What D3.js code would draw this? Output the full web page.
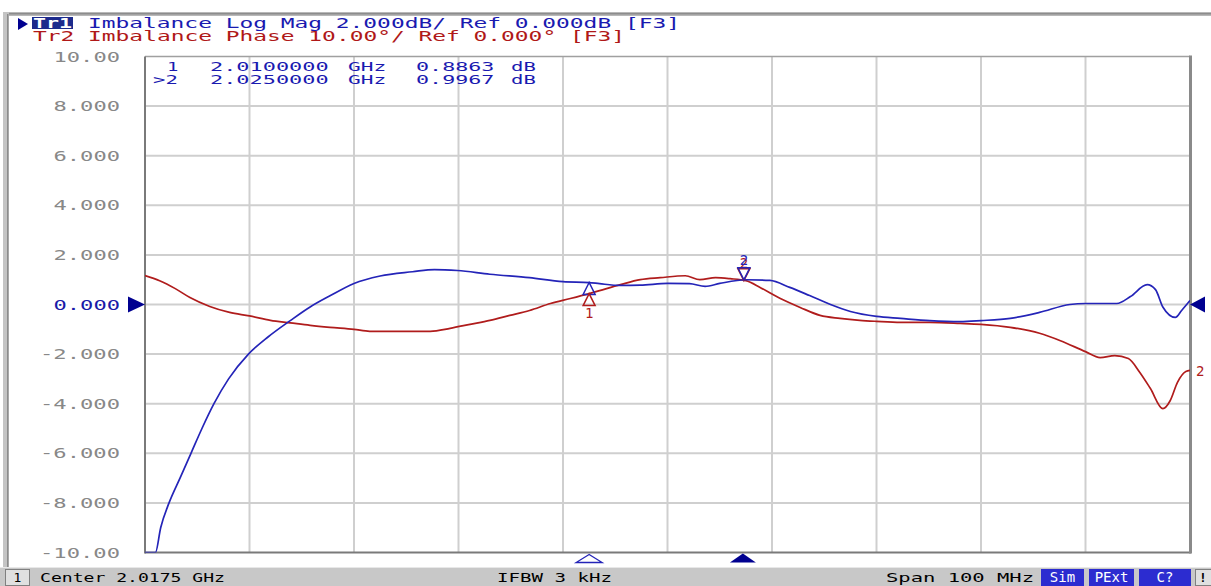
<!DOCTYPE html>
<html><head><meta charset="utf-8">
<script src="https://cdn.jsdelivr.net/npm/d3@7/dist/d3.min.js"></script>
<style>
html,body{margin:0;padding:0;background:#fff;}
svg{display:block;}
text{font-family:"DejaVu Sans Mono",monospace;}
</style></head><body>
<svg id="chart" width="1211" height="586"></svg>
<script>
// ---- data ----
const freqStartMHz = 1967.5, freqStopMHz = 2067.5;
const xGridMHz = [1967.5,1977.5,1987.5,1997.5,2007.5,2017.5,2027.5,2037.5,2047.5,2057.5,2067.5];
const yTicks = [10,8,6,4,2,0,-2,-4,-6,-8,-10];
const yTickLabels = ["10.00","8.000","6.000","4.000","2.000","0.000","-2.000","-4.000","-6.000","-8.000","-10.00"];

// Tr1: Imbalance Log Mag (dB)
const tr1Freq = [1967.5,1968.5,1969.0,1969.8,1970.85,1971.9,1972.95,1974.1,1975.5,1977.4,1979.3,1981.4,1983.3,1985.2,1987.5,1990.0,1993.1,1995.2,1997.4,2000.5,2004.3,2007.5,2010.0,2011.0,2013.0,2014.9,2017.5,2019.6,2021.1,2022.5,2025.0,2027.3,2029.2,2031.1,2033.1,2035.0,2037.5,2039.8,2042.6,2045.5,2047.5,2050.3,2053.1,2056.0,2057.5,2060.5,2061.8,2063.4,2064.2,2064.9,2066.1,2066.7,2067.5];
const tr1Mag  = [-10,-10,-9.0,-8.0,-7.0,-6.0,-5.0,-4.0,-3.0,-2.0,-1.3,-0.65,-0.1,0.35,0.85,1.15,1.32,1.41,1.37,1.22,1.08,0.92,0.886,0.84,0.77,0.78,0.85,0.84,0.73,0.85,0.997,0.97,0.69,0.36,0.0,-0.28,-0.48,-0.56,-0.65,-0.69,-0.65,-0.56,-0.32,0.0,0.04,0.04,0.32,0.80,0.60,-0.10,-0.52,-0.24,0.16];

// Tr2: Imbalance Phase (deg)
const tr2Freq = [1967.5,1968.9,1970.4,1971.8,1973.7,1975.6,1977.5,1979.5,1981.4,1983.3,1985.2,1987.5,1989.0,1990.0,1994.8,1996.7,1998.6,2000.5,2002.4,2004.3,2006.3,2008.2,2010.0,2011.0,2013.0,2014.9,2016.8,2019.2,2020.6,2022.1,2023.5,2025.0,2026.4,2028.3,2030.2,2032.1,2034.0,2035.9,2037.5,2039.8,2042.6,2045.5,2047.5,2050.3,2053.1,2055.1,2057.5,2058.9,2060.3,2061.6,2062.7,2063.7,2064.9,2065.6,2066.3,2067.1,2067.5];
const tr2Phase = [5.85,4.8,3.2,1.4,-0.4,-1.6,-2.3,-3.2,-3.7,-4.2,-4.6,-5.0,-5.4,-5.4,-5.4,-4.8,-4.0,-3.2,-2.2,-1.2,0.2,1.2,2.2,2.8,4.0,5.0,5.4,5.8,5.0,5.4,5.2,4.8,3.4,1.2,-0.6,-2.2,-2.8,-3.2,-3.4,-3.6,-3.6,-3.8,-4.0,-4.6,-5.8,-7.3,-9.5,-10.7,-10.3,-10.9,-13.7,-16.9,-21.0,-19.4,-15.7,-13.5,-13.3];

const markerIds = ["1","2"];
const markerFreqMHz = [2010.0, 2025.0];
const markerMag = [0.8863, 0.9967];
const markerFreqText = ["2.0100000","2.0250000"];
const markerValText = ["0.8863","0.9967"];

const headerTr1 = "Imbalance Log Mag 2.000dB/ Ref 0.000dB [F3]";
const headerTr2 = "Tr2 Imbalance Phase 10.00°/ Ref 0.000° [F3]";
const statusTexts = ["Center 2.0175 GHz","IFBW 3 kHz","Span 100 MHz"];

// ---- drawing ----
const BLUE = "#2424b8", RED = "#b01c1c", NAVY = "#000090", GRID = "#cfcfcf";
const svg = d3.select("#chart");
const L = 145, R = 1190, T = 56.5, B = 552.5;
const x = d3.scaleLinear().domain([freqStartMHz, freqStopMHz]).range([L, R]);
const yMag = d3.scaleLinear().domain([-10, 10]).range([B, T]);
const yPh = d3.scaleLinear().domain([-50, 50]).range([B, T]);

// outer frame
svg.append("rect").attr("x",3).attr("y",12).attr("width",1208).attr("height",4).attr("fill","#b8b8b8");
svg.append("rect").attr("x",3).attr("y",13).attr("width",1208).attr("height",1.5).attr("fill","#8c8c8c");
svg.append("rect").attr("x",3).attr("y",12).attr("width",6).attr("height",556).attr("fill","#c4c4c4");
svg.append("rect").attr("x",7).attr("y",14).attr("width",1.5).attr("height",554).attr("fill","#8c8c8c");

// grid
const g = svg.append("g");
g.selectAll("line.v").data(xGridMHz.slice(1,-1)).join("line")
  .attr("x1",d=>x(d)).attr("x2",d=>x(d)).attr("y1",T).attr("y2",B)
  .attr("stroke",GRID).attr("stroke-width",2);
g.selectAll("line.h").data(yTicks.slice(1,-1)).join("line")
  .attr("x1",L).attr("x2",R).attr("y1",d=>yMag(d)).attr("y2",d=>yMag(d))
  .attr("stroke",GRID).attr("stroke-width",2);
// frame
g.append("line").attr("x1",L).attr("x2",R).attr("y1",T).attr("y2",T).attr("stroke","#a0a0a0").attr("stroke-width",1.5);
g.append("line").attr("x1",L).attr("x2",L).attr("y1",T).attr("y2",B+1).attr("stroke","#7a7a7a").attr("stroke-width",2);
g.append("line").attr("x1",L).attr("x2",R+1).attr("y1",B).attr("y2",B).attr("stroke","#7a7a7a").attr("stroke-width",2);
g.append("line").attr("x1",R+0.5).attr("x2",R+0.5).attr("y1",T-1).attr("y2",B+1).attr("stroke","#8a8a8a").attr("stroke-width",3);

// y tick labels
yTicks.forEach((v,i)=>{
  const s = yTickLabels[i];
  const w = s.length*13.5;
  svg.append("text").attr("x",121-w).attr("y",yMag(v)+5)
    .attr("textLength",w-1).attr("lengthAdjust","spacingAndGlyphs")
    .attr("font-size",14).attr("fill", v===0 ? "#1a1aa8" : "#888888").text(s);
});

// traces
svg.append("clipPath").attr("id","pc").append("rect").attr("x",L).attr("y",T).attr("width",R-L).attr("height",B-T);
const lineMag = d3.line().x((d,i)=>x(tr1Freq[i])).y(d=>yMag(d)).curve(d3.curveMonotoneX);
const linePh = d3.line().x((d,i)=>x(tr2Freq[i])).y(d=>yPh(d)).curve(d3.curveMonotoneX);
svg.append("path").attr("d",linePh(tr2Phase)).attr("fill","none").attr("stroke",RED).attr("stroke-width",1.7).attr("clip-path","url(#pc)");
svg.append("path").attr("d",lineMag(tr1Mag)).attr("fill","none").attr("stroke",BLUE).attr("stroke-width",1.7).attr("clip-path","url(#pc)");

function phAt(f){
  for(let i=1;i<tr2Freq.length;i++){ if(f<=tr2Freq[i]){const t=(f-tr2Freq[i-1])/(tr2Freq[i]-tr2Freq[i-1]);return tr2Phase[i-1]+t*(tr2Phase[i]-tr2Phase[i-1]);} }
  return tr2Phase[tr2Phase.length-1];
}
function triUp(cx,ty,c){svg.append("path").attr("d",`M${cx},${ty} L${cx-6},${ty+12} L${cx+6},${ty+12} Z`).attr("fill","none").attr("stroke",c).attr("stroke-width",1.5);}
function triDown(cx,ty,c){svg.append("path").attr("d",`M${cx},${ty} L${cx-6},${ty-12} L${cx+6},${ty-12} Z`).attr("fill","none").attr("stroke",c).attr("stroke-width",1.5);}
function mk(txt,cx,by,c){svg.append("text").attr("x",cx).attr("y",by).attr("text-anchor","middle").attr("font-size",14).attr("fill",c).text(txt);}
// marker 1 (inactive): below trace
{
  const cx = x(markerFreqMHz[0]);
  const yb = yMag(markerMag[0]), yr = yPh(phAt(markerFreqMHz[0]));
  triUp(cx,yb,BLUE);
  triUp(cx,yr,RED); mk(markerIds[0],cx,yr+24,RED);
}
// marker 2 (active): above trace
{
  const cx = x(markerFreqMHz[1]) - 2;
  const yb = yMag(markerMag[1]), yr = yPh(phAt(markerFreqMHz[1]));
  triDown(cx,yr,RED); mk(markerIds[1],cx,yr-13,RED);
  triDown(cx,yb,BLUE); mk(markerIds[1],cx,yb-15,BLUE);
}
// stimulus markers on bottom
svg.append("path").attr("d",`M${x(markerFreqMHz[0])},${B+2} L${x(markerFreqMHz[0])-13},${B+10} L${x(markerFreqMHz[0])+13},${B+10} Z`).attr("fill","#fff").attr("stroke",BLUE).attr("stroke-width",1.3);
svg.append("path").attr("d",`M${x(markerFreqMHz[1])-3},${B+1} L${x(markerFreqMHz[1])-16},${B+10} L${x(markerFreqMHz[1])+10},${B+10} Z`).attr("fill",NAVY);
// ref level triangles
svg.append("path").attr("d",`M${L-17},${yMag(0)-8} L${L},${yMag(0)} L${L-17},${yMag(0)+8} Z`).attr("fill",NAVY);
svg.append("path").attr("d",`M${R},${yMag(0)} L${R+15},${yMag(0)-8} L${R+15},${yMag(0)+8} Z`).attr("fill",NAVY);
svg.append("text").attr("x",R+6).attr("y",yPh(tr2Phase[tr2Phase.length-1])+6).attr("font-size",14).attr("fill",RED).text("2");

// header
svg.append("path").attr("d","M18,18 L28,24 L18,30 Z").attr("fill",NAVY);
svg.append("rect").attr("x",32).attr("y",17).attr("width",41).attr("height",12).attr("fill","#1c2a8c");
svg.append("text").attr("x",33).attr("y",28).attr("font-size",14).attr("fill","#fff").attr("font-weight","bold")
  .attr("textLength",39).attr("lengthAdjust","spacingAndGlyphs").text("Tr1");
svg.append("text").attr("x",88).attr("y",28).attr("font-size",14).attr("fill","#1a1ab0")
  .attr("textLength",592).attr("lengthAdjust","spacingAndGlyphs").text(headerTr1);
svg.append("text").attr("x",33).attr("y",41).attr("font-size",14).attr("fill","#b01818")
  .attr("textLength",592).attr("lengthAdjust","spacingAndGlyphs").text(headerTr2);

// marker readout
markerIds.forEach((id,i)=>{
  const yy = 71 + i*12.5;
  const c = "#1a1ab0";
  const put=(s,xx)=>svg.append("text").attr("x",xx).attr("y",yy).attr("font-size",13).attr("fill",c)
    .attr("textLength",s.length*13.4-2).attr("lengthAdjust","spacingAndGlyphs").text(s);
  if(i===1) put(">"+id,153); else put(id,167);
  put(markerFreqText[i],210); put("GHz",348); put(markerValText[i],416); put("dB",511);
});

// status bar
svg.append("rect").attr("x",0).attr("y",567).attr("width",1211).attr("height",19).attr("fill","#c8c8c8");
svg.append("line").attr("x1",0).attr("x2",1211).attr("y1",567.5).attr("y2",567.5).attr("stroke","#e8e8e8");
svg.append("rect").attr("x",5.5).attr("y",569.5).attr("width",24).attr("height",16).attr("fill","#e0e0e0").attr("stroke","#808080");
const st=(s,xx,w)=>svg.append("text").attr("x",xx).attr("y",582).attr("font-family","'DejaVu Sans',sans-serif")
  .attr("font-size",13).attr("fill","#000")
  .attr("textLength",w).attr("lengthAdjust","spacingAndGlyphs").text(s);
svg.append("text").attr("x",17.5).attr("y",582).attr("text-anchor","middle").attr("font-family","'DejaVu Sans',sans-serif").attr("font-size",13).text("1");
st(statusTexts[0],40,185);
st(statusTexts[1],497,115);
st(statusTexts[2],886,148);
[["Sim",1041,43],["PExt",1089,45],["C?",1139,52]].forEach(b=>{
  svg.append("rect").attr("x",b[1]).attr("y",569).attr("width",b[2]).attr("height",17).attr("fill","#2c2cd0");
  svg.append("text").attr("x",b[1]+b[2]/2).attr("y",582).attr("text-anchor","middle").attr("font-family","'DejaVu Sans',sans-serif").attr("font-size",14).attr("fill","#fff").text(b[0]);
});
svg.append("rect").attr("x",1195.5).attr("y",569.5).attr("width",16).attr("height",16).attr("fill","#e0e0e0").attr("stroke","#808080");
svg.append("text").attr("x",1203).attr("y",582).attr("text-anchor","middle").attr("font-family","'DejaVu Sans',sans-serif").attr("font-size",13).attr("font-weight","bold").text("!");
</script>
</body></html>
